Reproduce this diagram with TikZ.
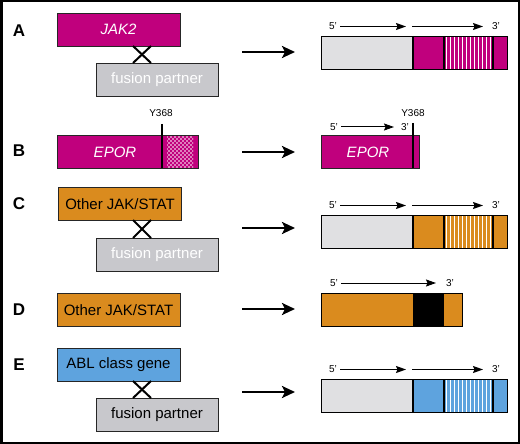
\documentclass[tikz,border=0pt]{standalone}
\usepackage{fontspec}
\setmainfont{Liberation Sans}
\usetikzlibrary{arrows.meta,patterns}
\definecolor{jakpink}{RGB}{192,0,125}
\definecolor{jakorange}{RGB}{218,139,30}
\definecolor{ablblue}{RGB}{94,163,222}
\definecolor{partgray}{RGB}{200,200,204}
\definecolor{fusgray}{RGB}{224,224,226}
\pgfdeclarepatternformonly{eprdots}{\pgfqpoint{-1pt}{-1pt}}{\pgfqpoint{5pt}{5pt}}{\pgfqpoint{4pt}{4pt}}{%
  \pgfpathcircle{\pgfqpoint{1pt}{1pt}}{0.95pt}%
  \pgfpathcircle{\pgfqpoint{3pt}{3pt}}{0.95pt}%
  \pgfusepath{fill}}
\begin{document}
\begin{tikzpicture}[x=1pt,y=-1pt,
  gene/.style={draw=black!85,line width=0.9pt,minimum width=123pt,minimum height=33pt,inner sep=0pt,font=\fontsize{15}{15}\selectfont},
  partner/.style={gene,fill=partgray,minimum width=122pt},
  panel/.style={font=\fontsize{17}{17}\selectfont\bfseries},
  small/.style={font=\fontsize{10}{10}\selectfont,inner sep=0pt},
  bigarrow/.style={line width=2.5pt,-{Stealth[length=13pt,width=12pt,inset=3pt]}},
  strand/.style={line width=1pt,-{Stealth[length=10pt,width=7pt,inset=1.5pt]}},
  cross/.style={line width=2pt}]

\useasboundingbox (0,0) rectangle (520,444);
\draw[line width=2.5pt] (1.25,1.25) rectangle (518.75,442.75);

% panel letters
\node[panel] (lA) at (19,31) {A};
\node[panel] (lB) at (19,151) {B};
\node[panel] (lC) at (19,204) {C};
\node[panel] (lD) at (19,310) {D};
\node[panel] (lE) at (19,365) {E};

% A
\node[gene,fill=jakpink,text=white] (jak) at (118.5,29.5) {\itshape JAK2};
\node[partner,text=white] (partA) at (157,79.5) {fusion partner};
\coordinate (xA1) at (133,46); \coordinate (xA2) at (151,63);
\coordinate (xA3) at (151,46); \coordinate (xA4) at (133,63);
\draw[cross] (xA1) -- (xA2);
\draw[cross] (xA3) -- (xA4);

% B
\node[gene,fill=jakpink,minimum width=141pt] (epor) at (127.5,152) {};
\fill[pattern=eprdots,pattern color=white] (167,136.5) rectangle (193,167.5);
\node[font=\fontsize{15}{15}\selectfont\itshape,text=white] (eporname) at (115,152) {EPOR};
\node[small] (yB) at (161,113) {Y368};
\coordinate (yBt) at (162,124); \coordinate (yBb) at (162,168);
\draw[line width=1.4pt] (yBt) -- (yBb);

% C
\node[gene,fill=jakorange] (otherC) at (120,204) {Other JAK/STAT};
\node[partner,text=white] (partC) at (157,254.5) {fusion partner};
\coordinate (xC1) at (133,220); \coordinate (xC2) at (151,238);
\coordinate (xC3) at (151,220); \coordinate (xC4) at (133,238);
\draw[cross] (xC1) -- (xC2);
\draw[cross] (xC3) -- (xC4);

% D
\node[gene,fill=jakorange] (otherD) at (118.5,310) {Other JAK/STAT};

% E
\node[gene,fill=ablblue] (abl) at (118.5,365) {ABL class gene};
\node[partner] (partE) at (157,414.5) {fusion partner};
\coordinate (xE1) at (133,381); \coordinate (xE2) at (151,398);
\coordinate (xE3) at (151,381); \coordinate (xE4) at (133,398);
\draw[cross] (xE1) -- (xE2);
\draw[cross] (xE3) -- (xE4);

% arrows
\foreach \n/\y in {A/52,B/152,C/228,D/309,E/392}{
  \coordinate (in\n) at (242,\y);
  \coordinate (out\n) at (295,\y);
  \draw[bigarrow] (in\n) -- (out\n);
}

% fusion products A, C, E
\foreach \n/\y/\c in {A/36/jakpink,C/215/jakorange,E/379/ablblue}{
  \fill[fusgray] (321,\y) rectangle (413,\y+33);
  \fill[\c] (413,\y) rectangle (507,\y+33);
  \foreach \s in {0,...,11}
    \draw[white,line width=1.7pt] (446.5+4*\s,\y) -- ++(0,33);
  \draw[line width=1.4pt] (413,\y) -- ++(0,33) (444,\y) -- ++(0,33) (493,\y) -- ++(0,33);
  \draw[line width=0.9pt] (321,\y) rectangle (507,\y+33);
  \node[small] (five\n) at (333,\y-9.5) {5'};
  \node[small] (three\n) at (496,\y-9.5) {3'};
  \coordinate (s\n1) at (340,\y-9.5); \coordinate (e\n1) at (406,\y-9.5);
  \coordinate (s\n2) at (412,\y-9.5); \coordinate (e\n2) at (483,\y-9.5);
  \draw[strand] (s\n1) -- (e\n1);
  \draw[strand] (s\n2) -- (e\n2);
}

% product B
\node[gene,fill=jakpink,minimum width=98pt,text=white] (eporB) at (370,151.5) {};
\node[font=\fontsize{15}{15}\selectfont\itshape,text=white] (eporBname) at (368,152) {EPOR};
\node[small] (yBr) at (413,113) {Y368};
\coordinate (yBrt) at (413,123); \coordinate (yBrb) at (413,168);
\draw[line width=1.4pt] (yBrt) -- (yBrb);
\node[small] (fiveB) at (334,127) {5'};
\node[small] (threeB) at (405,127) {3'};
\coordinate (sB) at (341,127); \coordinate (eB) at (394,127);
\draw[strand] (sB) -- (eB);

% product D
\fill[jakorange] (321,293) rectangle (462,326);
\fill[black] (413,293) rectangle (444,326);
\draw[line width=0.9pt] (321,293) rectangle (462,326);
\node[small] (fiveD) at (334,283) {5'};
\node[small] (threeD) at (450,283) {3'};
\coordinate (sD) at (341,283); \coordinate (eD) at (436,283);
\draw[strand] (sD) -- (eD);

\end{tikzpicture}
\end{document}
